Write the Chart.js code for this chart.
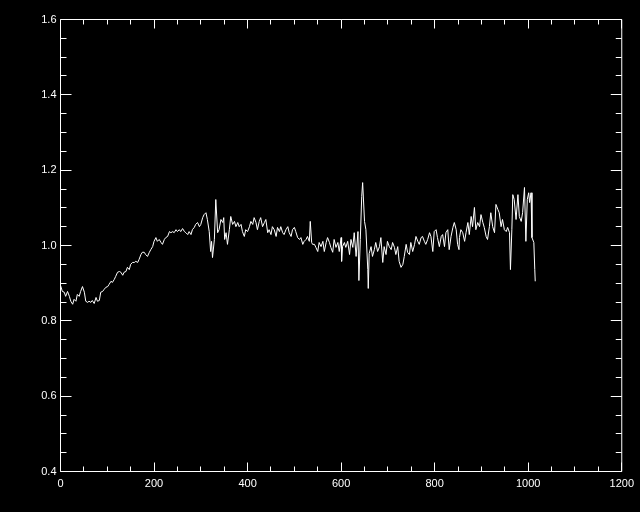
<!DOCTYPE html>
<html>
<head>
<meta charset="utf-8">
<script src="https://cdn.jsdelivr.net/npm/chart.js@4.4.1/dist/chart.umd.min.js"></script>
<style>
  html, body { margin: 0; padding: 0; background: #000; }
  #chdiv { width: 640px; height: 512px; }
</style>
</head>
<body>
<div id="chdiv">
  <canvas id="spec" width="640" height="512"></canvas>
</div>
<script>
// tick labels
const xTicks = [0, 200, 400, 600, 800, 1000, 1200];
const yTicks = [0.4, 0.6, 0.8, 1.0, 1.2, 1.4, 1.6];
const xMinorStep = 50;
const yMinorStep = 0.05;

// spectrum
const xVals = [
  0, 4, 8, 11, 15, 19, 22, 26, 29, 33, 36, 40, 43, 47, 51, 54, 58, 61, 65, 68,
  72, 76, 79, 83, 86, 90, 93, 97, 101, 104, 108, 111, 115, 118, 122, 126, 129, 133, 136, 140,
  143, 147, 150, 154, 158, 161, 165,
  168, 172, 175, 179, 182, 186, 190, 193, 197, 200, 204, 207, 211, 215, 218, 222, 225, 229, 233, 236,
  240, 243, 247, 250, 254, 257, 261, 265, 268, 272, 275, 279, 282, 286, 289, 293, 297, 300, 304, 307,
  311, 314, 318, 321, 323, 325, 329, 332, 336, 339,
  343, 347, 349, 351, 354, 357, 361, 364, 368, 372, 375, 379, 382, 386, 389, 393, 396, 400, 404, 407,
  411, 414, 418, 421, 425, 428, 432, 436, 439, 443, 446, 450, 453, 457, 461, 464, 468, 471, 475, 478,
  482, 486, 489, 493, 496, 500, 503, 507, 511,
  514, 518, 521, 525, 528, 532, 534, 537, 539, 543, 546, 550, 553, 557, 561, 564, 568, 571, 575, 578,
  582, 585, 589, 593, 596, 600, 601, 603, 607, 610, 614, 618, 621, 625, 628, 632, 636, 638, 641, 644,
  646, 650, 653, 657, 658, 660, 664, 667, 671, 674, 678,
  682, 685, 689, 692, 696, 699, 703, 707, 710, 714, 717, 721, 724, 728, 732, 735, 739, 742, 746, 749,
  753, 757, 760, 764, 767, 771, 774, 778, 781, 785, 789, 792, 796, 799, 803, 806, 810, 814, 817, 821,
  824, 828, 831, 835, 839, 842, 846, 849, 852, 853,
  856, 860, 864, 867, 871, 874, 878, 881, 885, 888, 892, 896, 899, 903, 906, 910, 913, 917, 920, 924,
  928, 931, 935, 938, 942, 945, 949, 953, 956, 960, 962, 965, 967, 970, 974, 978, 981, 985, 988, 992,
  995, 998, 1001, 1003, 1006, 1008, 1012, 1014, 1015
];
const yVals = [
  0.894, 0.878, 0.876, 0.865, 0.878, 0.865, 0.852, 0.844, 0.857, 0.852, 0.870, 0.865, 0.878, 0.891, 0.876, 0.852, 0.849, 0.852, 0.849, 0.854,
  0.846, 0.862, 0.852, 0.854, 0.876, 0.878, 0.883, 0.889, 0.891, 0.897, 0.905, 0.902, 0.910, 0.918, 0.929, 0.931, 0.929, 0.921, 0.929, 0.931,
  0.942, 0.936, 0.950, 0.955, 0.955, 0.958, 0.955,
  0.963, 0.976, 0.982, 0.982, 0.976, 0.971, 0.982, 0.989, 0.997, 1.011, 1.021, 1.011, 1.016, 1.008, 1.003, 1.016, 1.021, 1.024, 1.037, 1.034,
  1.037, 1.034, 1.042, 1.037, 1.042, 1.037, 1.045, 1.037, 1.034, 1.029, 1.037, 1.029, 1.042, 1.048, 1.056, 1.061, 1.050, 1.056, 1.074, 1.082,
  1.087, 1.069, 1.037, 0.984, 1.011, 0.968, 1.016, 1.122, 1.034, 1.042,
  1.069, 1.061, 1.074, 1.016, 1.034, 1.003, 1.042, 1.077, 1.056, 1.064, 1.050, 1.061, 1.050, 1.056, 1.037, 1.024, 1.042, 1.037, 1.050, 1.064,
  1.056, 1.074, 1.061, 1.042, 1.064, 1.074, 1.050, 1.061, 1.069, 1.034, 1.042, 1.029, 1.050, 1.042, 1.024, 1.048, 1.037, 1.050, 1.034, 1.029,
  1.042, 1.050, 1.034, 1.024, 1.042, 1.048, 1.037, 1.021, 1.016,
  1.021, 1.003, 1.011, 1.016, 1.024, 1.011, 1.064, 1.008, 1.003, 1.003, 0.995, 0.984, 1.008, 0.997, 1.011, 0.984, 1.008, 1.021, 1.008, 0.995,
  0.982, 1.016, 0.995, 1.008, 0.984, 1.021, 0.958, 0.997, 1.008, 0.995, 1.011, 0.976, 1.016, 0.995, 1.034, 0.971, 1.037, 0.907, 1.016, 1.130,
  1.167, 1.064, 1.042, 0.936, 0.886, 0.979, 0.997, 0.971, 0.989, 1.008, 0.984,
  0.997, 1.021, 0.955, 0.997, 0.976, 1.011, 0.997, 0.989, 1.008, 0.995, 0.976, 0.997, 0.958, 0.942, 0.950, 0.971, 1.003, 0.982, 0.976, 1.008,
  0.984, 1.003, 1.024, 1.011, 1.003, 1.021, 1.024, 1.011, 1.003, 1.016, 1.034, 1.024, 0.984, 1.037, 1.042, 1.021, 0.997, 1.024, 1.029, 0.997,
  1.034, 1.042, 0.989, 1.024, 1.048, 1.061, 1.042, 1.003, 0.989, 1.021,
  1.042, 1.034, 1.011, 1.034, 1.061, 1.029, 1.077, 1.050, 1.101, 1.042, 1.061, 1.050, 1.082, 1.061, 1.048, 1.024, 1.016, 1.050, 1.087, 1.050,
  1.034, 1.109, 1.096, 1.087, 1.050, 1.069, 1.042, 1.037, 1.048, 1.034, 0.936, 1.042, 1.135, 1.122, 1.069, 1.135, 1.077, 1.064, 1.087, 1.154,
  1.011, 1.122, 1.140, 1.114, 1.140, 1.021, 1.008, 0.936, 0.905
];

const points = xVals.map((x, i) => ({ x: x, y: yVals[i] }));
const labelFont = { family: 'Liberation Sans', size: 11 };

// black page + IDL style box with inward ticks on all four sides
const idlAxes = {
  id: 'idlAxes',
  beforeDraw(chart) {
    const ctx = chart.ctx;
    ctx.save();
    ctx.fillStyle = '#000';
    ctx.fillRect(0, 0, chart.width, chart.height);
    ctx.restore();
  },
  afterDraw(chart) {
    const { ctx, chartArea, scales } = chart;
    const { left, right, top, bottom } = chartArea;
    ctx.save();
    ctx.strokeStyle = '#fff';
    ctx.lineWidth = 1;
    ctx.beginPath();
    ctx.rect(left, top, right - left, bottom - top);
    // x ticks
    const xMax = xTicks[xTicks.length - 1];
    for (let v = xTicks[0]; v <= xMax; v += xMinorStep) {
      const px = Math.floor(scales.x.getPixelForValue(v)) + 0.5;
      const len = xTicks.includes(v) ? 9 : 5;
      ctx.moveTo(px, bottom); ctx.lineTo(px, bottom - len);
      ctx.moveTo(px, top); ctx.lineTo(px, top + len);
    }
    // y ticks
    const n = Math.round((yTicks[yTicks.length - 1] - yTicks[0]) / yMinorStep);
    for (let i = 0; i <= n; i++) {
      const v = yTicks[0] + i * yMinorStep;
      const py = Math.floor(scales.y.getPixelForValue(v)) + 0.5;
      const len = i % 4 === 0 ? 11 : 6;
      ctx.moveTo(left, py); ctx.lineTo(left + len, py);
      ctx.moveTo(right, py); ctx.lineTo(right - len, py);
    }
    ctx.stroke();
    ctx.restore();
  }
};

new Chart(document.getElementById('spec').getContext('2d'), {
  type: 'line',
  data: {
    datasets: [{
      data: points,
      borderColor: '#fff',
      borderWidth: 1,
      pointRadius: 0,
      tension: 0,
      fill: false
    }]
  },
  options: {
    responsive: false,
    animation: false,
    events: [],
    layout: { padding: { top: 19.5, right: 17.5, left: 0, bottom: 0 } },
    plugins: { legend: { display: false }, tooltip: { enabled: false } },
    scales: {
      x: {
        type: 'linear',
        min: 0,
        max: 1200,
        afterBuildTicks: s => { s.ticks = xTicks.map(v => ({ value: v })); },
        afterFit: s => { s.height = 40.5; },
        grid: { display: false, drawTicks: false },
        border: { display: false },
        ticks: { color: '#fff', font: labelFont, padding: 6, maxRotation: 0, autoSkip: false,
                 callback: v => String(v) }
      },
      y: {
        type: 'linear',
        min: 0.4,
        max: 1.6,
        afterBuildTicks: s => { s.ticks = yTicks.map(v => ({ value: v })); },
        afterFit: s => { s.width = 60.5; },
        grid: { display: false, drawTicks: false },
        border: { display: false },
        ticks: { color: '#fff', font: labelFont, padding: 4, autoSkip: false,
                 callback: v => Number(v).toFixed(1) }
      }
    }
  },
  plugins: [idlAxes]
});
</script>
</body>
</html>
